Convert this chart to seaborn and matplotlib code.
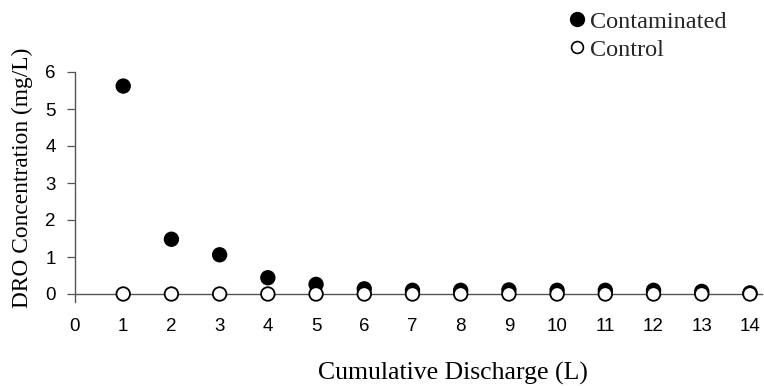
import matplotlib
matplotlib.use("Agg")
import matplotlib.pyplot as plt
import seaborn as sns
import pandas as pd
from matplotlib.lines import Line2D

discharge = [1, 2, 3, 4, 5, 6, 7, 8, 9, 10, 11, 12, 13, 14]
contaminated = [5.62, 1.48, 1.06, 0.44, 0.26, 0.14, 0.10, 0.10, 0.11, 0.10, 0.10, 0.10, 0.07, 0.03]
control = [0, 0, 0, 0, 0, 0, 0, 0, 0, 0, 0, 0, 0, 0]
series = ["Contaminated", "Control"]
xticks = list(range(0, 15))
yticks = list(range(0, 7))

df = pd.DataFrame({
    "x": discharge * 2,
    "y": contaminated + control,
    "group": [series[0]] * len(discharge) + [series[1]] * len(discharge),
})

sns.set_theme(style="white")
serif = ["Liberation Serif", "DejaVu Serif"]
sans = ["Liberation Sans", "DejaVu Sans"]

fig = plt.figure(figsize=(7.64, 3.86), dpi=100)
ax = fig.add_axes([75 / 764, (386 - 294) / 386, (762 - 75) / 764, (294 - 72) / 386])

palette = {series[0]: "black", series[1]: "white"}
sns.scatterplot(data=df, x="x", y="y", hue="group", hue_order=series, palette=palette,
                edgecolor="black", linewidth=1.3, s=95, ax=ax, legend=False,
                clip_on=False, zorder=3)

ax.set_xlim(0, 14.25)
ax.set_ylim(0, 6)
ax.set_xticks(xticks)
ax.set_yticks(yticks)
ax.set_xticklabels([str(t) for t in xticks], fontfamily=sans, fontsize=13.5)
ax.set_yticklabels([str(t) for t in yticks], fontfamily=sans, fontsize=13.5)
ax.tick_params(axis="x", length=0, pad=17, colors="black")
ax.tick_params(axis="y", left=True, length=6, width=0.9, direction="out", pad=8, color="#555555", labelcolor="black")

for side in ["top", "right"]:
    ax.spines[side].set_visible(False)
for side in ["left", "bottom"]:
    ax.spines[side].set_color("#555555")
    ax.spines[side].set_linewidth(1.0)
ax.spines["left"].set_bounds(-0.22, 6)

ax.set_xlabel("Cumulative Discharge (L)", fontfamily=serif, fontsize=18.5, color="black", labelpad=0)
ax.xaxis.set_label_coords(0.550, -0.305)
ax.set_ylabel("DRO Concentration (mg/L)", fontfamily=serif, fontsize=16.8, color="black")
ax.yaxis.set_label_coords(-0.061, 0.523)

handles = [
    Line2D([], [], marker="o", linestyle="", markerfacecolor="black", markeredgecolor="black", markersize=10),
    Line2D([], [], marker="o", linestyle="", markerfacecolor="white", markeredgecolor="black", markeredgewidth=1.2, markersize=8.5),
]
fig.legend(handles, series, loc="upper left", bbox_to_anchor=(555 / 764, 0.997), frameon=False,
           prop={"family": serif, "size": 17.5}, handletextpad=0.05, handlelength=1.0,
           labelspacing=0.25, borderaxespad=0)

fig.savefig("out.png", dpi=100)
